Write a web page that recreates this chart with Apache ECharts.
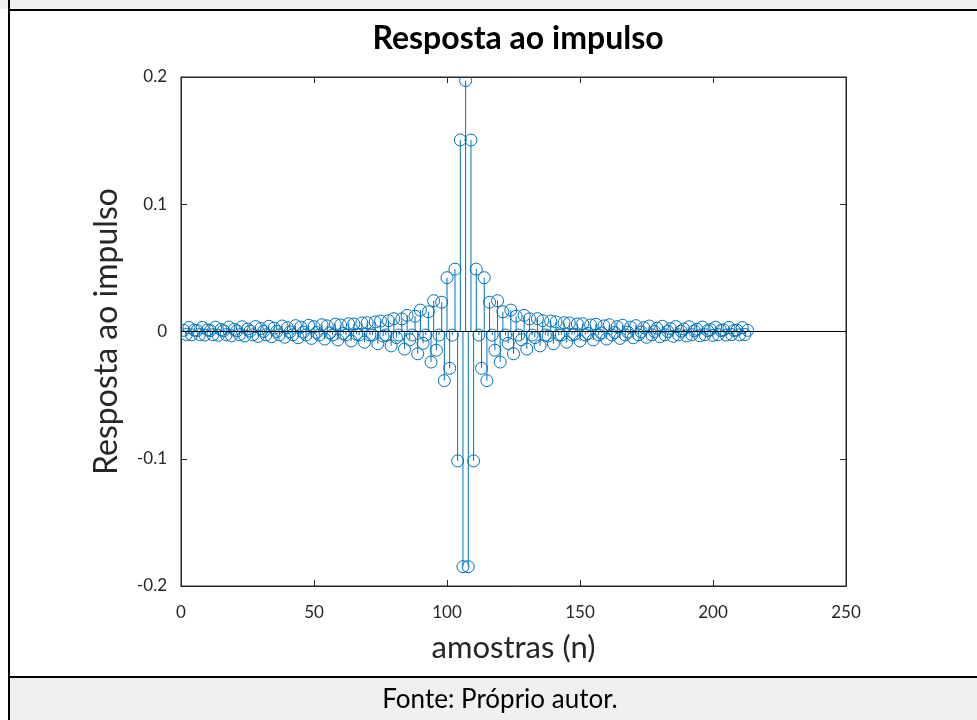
<!DOCTYPE html>
<html>
<head>
<meta charset="utf-8">
<script src="https://cdn.jsdelivr.net/npm/echarts@6/dist/echarts.min.js"></script>
<style>
  html, body { margin: 0; padding: 0; background: #ffffff; }
  #chart { width: 977px; height: 720px; }
</style>
</head>
<body>
<div id="chart"></div>
<script>
// Impulse response h[n], samples n = 1..213 (symmetric about n = 107)
const response = [
  0.0009, -0.0024, 0.0031, -0.0026, 0.0011, 0.0008, -0.0024, 0.0032, -0.0028, 0.0013,
  0.0007, -0.0025, 0.0034, -0.0030, 0.0015, 0.0006, -0.0025, 0.0035, -0.0033, 0.0017,
  0.0005, -0.0025, 0.0037, -0.0035, 0.0020, 0.0003, -0.0026, 0.0039, -0.0038, 0.0023,
  0.0001, -0.0026, 0.0041, -0.0041, 0.0026, 0.0000, -0.0026, 0.0043, -0.0045, 0.0030,
  -0.0003, -0.0026, 0.0046, -0.0049, 0.0034, -0.0005, -0.0027, 0.0049, -0.0054, 0.0038,
  -0.0008, -0.0027, 0.0053, -0.0059, 0.0044, -0.0011, -0.0027, 0.0057, -0.0066, 0.0051,
  -0.0016, -0.0027, 0.0061, -0.0074, 0.0059, -0.0021, -0.0027, 0.0067, -0.0084, 0.0069,
  -0.0027, -0.0027, 0.0075, -0.0096, 0.0082, -0.0036, -0.0027, 0.0085, -0.0113, 0.0101,
  -0.0048, -0.0028, 0.0099, -0.0138, 0.0127, -0.0065, -0.0028, 0.0120, -0.0175, 0.0168,
  -0.0093, -0.0028, 0.0155, -0.0240, 0.0242, -0.0147, -0.0028, 0.0230, -0.0386, 0.0423,
  -0.0289, -0.0028, 0.0490, -0.1017, 0.1505, -0.1848, 0.1972,
  -0.1848, 0.1505, -0.1017, 0.0490, -0.0028, -0.0289, 0.0423, -0.0386, 0.0230, -0.0028,
  -0.0147, 0.0242, -0.0240, 0.0155, -0.0028, -0.0093, 0.0168, -0.0175, 0.0120, -0.0028,
  -0.0065, 0.0127, -0.0138, 0.0099, -0.0028, -0.0048, 0.0101, -0.0113, 0.0085, -0.0027,
  -0.0036, 0.0082, -0.0096, 0.0075, -0.0027, -0.0027, 0.0069, -0.0084, 0.0067, -0.0027,
  -0.0021, 0.0059, -0.0074, 0.0061, -0.0027, -0.0016, 0.0051, -0.0066, 0.0057, -0.0027,
  -0.0011, 0.0044, -0.0059, 0.0053, -0.0027, -0.0008, 0.0038, -0.0054, 0.0049, -0.0027,
  -0.0005, 0.0034, -0.0049, 0.0046, -0.0026, -0.0003, 0.0030, -0.0045, 0.0043, -0.0026,
  0.0000, 0.0026, -0.0041, 0.0041, -0.0026, 0.0001, 0.0023, -0.0038, 0.0039, -0.0026,
  0.0003, 0.0020, -0.0035, 0.0037, -0.0025, 0.0005, 0.0017, -0.0033, 0.0035, -0.0025,
  0.0006, 0.0015, -0.0030, 0.0034, -0.0025, 0.0007, 0.0013, -0.0028, 0.0032, -0.0024,
  0.0008, 0.0011, -0.0026, 0.0031, -0.0024, 0.0009
];
const firstSample = 1;

const xTicks = [0, 50, 100, 150, 200, 250];
const yTicks = [-0.2, -0.1, 0, 0.1, 0.2];

const titleText = 'Resposta ao impulso';
const xName = 'amostras (n)';
const yName = 'Resposta ao impulso';
const footerText = 'Fonte: Próprio autor.';

const stemColor = '#0072BD';
const axisColor = '#262626';
const font = 'Lato, "Open Sans", sans-serif';

const points = response.map((v, i) => [firstSample + i, v]);

const chart = echarts.init(document.getElementById('chart'), null, { renderer: 'canvas' });

const gridBox = { left: 181, top: 77, width: 665, height: 509 };

// one stem: vertical line from the baseline plus an open circle at the value
function stemItem(params, api) {
  const n = api.value(0);
  const v = api.value(1);
  const base = api.coord([n, 0]);
  const tip = api.coord([n, v]);
  return {
    type: 'group',
    children: [
      {
        type: 'line',
        shape: { x1: base[0], y1: base[1], x2: tip[0], y2: tip[1] },
        style: { stroke: stemColor, lineWidth: 1 }
      },
      {
        type: 'circle',
        shape: { cx: tip[0], cy: tip[1], r: 6 },
        style: { fill: 'none', stroke: stemColor, lineWidth: 1 }
      }
    ]
  };
}

const hiddenLabel = { show: false };
const tickStyle = { show: true, inside: true, length: 6, lineStyle: { color: axisColor, width: 1 } };

chart.setOption({
  animation: false,
  backgroundColor: '#ffffff',
  title: {
    text: titleText,
    left: 513,
    top: 18,
    textAlign: 'center',
    textStyle: { fontFamily: font, fontWeight: 'bold', fontSize: 32, color: '#000000' }
  },
  grid: Object.assign({ show: true, borderColor: axisColor, borderWidth: 1, backgroundColor: '#ffffff' }, gridBox),
  xAxis: [
    {
      type: 'value', min: xTicks[0], max: xTicks[xTicks.length - 1], interval: 50,
      position: 'bottom',
      axisLine: { show: true, onZero: false, lineStyle: { color: axisColor } },
      axisTick: tickStyle,
      splitLine: { show: false },
      axisLabel: { margin: 18, fontFamily: font, fontSize: 17, color: axisColor },
      name: xName, nameLocation: 'middle', nameGap: 46,
      nameTextStyle: { fontFamily: font, fontSize: 31, color: axisColor }
    },
    {
      type: 'value', min: xTicks[0], max: xTicks[xTicks.length - 1], interval: 50,
      position: 'top',
      axisLine: { show: true, onZero: false, lineStyle: { color: axisColor } },
      axisTick: tickStyle,
      splitLine: { show: false },
      axisLabel: hiddenLabel
    }
  ],
  yAxis: [
    {
      type: 'value', min: yTicks[0], max: yTicks[yTicks.length - 1], interval: 0.1,
      position: 'left',
      axisLine: { show: true, onZero: false, lineStyle: { color: axisColor } },
      axisTick: tickStyle,
      splitLine: { show: false },
      axisLabel: { margin: 14, fontFamily: font, fontSize: 17, color: axisColor },
      name: yName, nameLocation: 'middle', nameGap: 58, nameRotate: 90,
      nameTextStyle: { fontFamily: font, fontSize: 32, color: axisColor }
    },
    {
      type: 'value', min: yTicks[0], max: yTicks[yTicks.length - 1], interval: 0.1,
      position: 'right',
      axisLine: { show: true, onZero: false, lineStyle: { color: axisColor } },
      axisTick: tickStyle,
      splitLine: { show: false },
      axisLabel: hiddenLabel
    }
  ],
  series: [
    {
      type: 'custom',
      name: 'stems',
      xAxisIndex: 0,
      yAxisIndex: 0,
      renderItem: stemItem,
      data: points,
      clip: true,
      z: 2
    },
    {
      type: 'line',
      name: 'baseline',
      xAxisIndex: 0,
      yAxisIndex: 0,
      data: [[xTicks[0], 0], [xTicks[xTicks.length - 1], 0]],
      symbol: 'none',
      lineStyle: { color: '#000000', width: 1 },
      z: 5,
      silent: true
    }
  ],
  graphic: [
    // top band and frame
    { type: 'rect', shape: { x: 0, y: 0, width: 977, height: 9 }, style: { fill: '#f0f0f0' }, z: 10 },
    { type: 'rect', shape: { x: 8, y: 9, width: 969, height: 2 }, style: { fill: '#000000' }, z: 11 },
    { type: 'rect', shape: { x: 8, y: 0, width: 2, height: 720 }, style: { fill: '#000000' }, z: 11 },
    // caption band
    { type: 'rect', shape: { x: 10, y: 678, width: 967, height: 42 }, style: { fill: '#f0f0f0' }, z: 10 },
    { type: 'rect', shape: { x: 8, y: 676, width: 969, height: 2 }, style: { fill: '#000000' }, z: 11 },
    {
      type: 'text', x: 500, y: 700, z: 12,
      style: { text: footerText, fill: '#000000', font: '26px ' + font, textAlign: 'center', textVerticalAlign: 'middle' }
    }
  ]
});
</script>
</body>
</html>
